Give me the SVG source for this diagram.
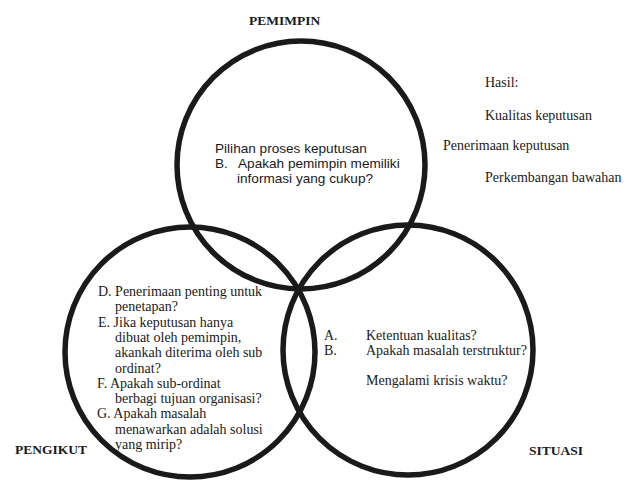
<svg xmlns="http://www.w3.org/2000/svg" width="629" height="480" viewBox="0 0 629 480">
<style>
.c{fill:none;stroke:#1a1a1a;stroke-width:5.5}
.s{font-family:"Liberation Sans",Arial,sans-serif;font-size:13.6px;fill:#1a1a1a}
.t{font-family:"Liberation Serif","Times New Roman",serif;font-size:14px;fill:#1a1a1a}
.b{font-family:"Liberation Serif","Times New Roman",serif;font-size:13.5px;font-weight:bold;fill:#1a1a1a}
</style>
<rect width="629" height="480" fill="#fff"/>
<g id="pemimpin">
<circle class="c" cx="301" cy="165" r="124"/>
<text class="b" x="249" y="25">PEMIMPIN</text>
<text class="s" x="215" y="153">Pilihan proses keputusan</text>
<text class="s" x="215" y="168">B.</text>
<text class="s" x="238" y="168">Apakah pemimpin memiliki</text>
<text class="s" x="237" y="183">informasi yang cukup?</text>
</g>
<g id="pengikut">
<circle class="c" cx="190" cy="352" r="125"/>
<text class="b" x="15" y="454">PENGIKUT</text>
<text class="t" x="98" y="296">D. Penerimaan penting untuk</text>
<text class="t" x="115" y="311.3">penetapan?</text>
<text class="t" x="98" y="326.6">E. Jika keputusan hanya</text>
<text class="t" x="115" y="341.9">dibuat oleh pemimpin,</text>
<text class="t" x="115" y="357.2">akankah diterima oleh sub</text>
<text class="t" x="115" y="372.5">ordinat?</text>
<text class="t" x="97" y="387.8">F. Apakah sub-ordinat</text>
<text class="t" x="115" y="403.1">berbagi tujuan organisasi?</text>
<text class="t" x="97" y="418.4">G. Apakah masalah</text>
<text class="t" x="115" y="433.7">menawarkan adalah solusi</text>
<text class="t" x="115" y="449">yang mirip?</text>
</g>
<g id="situasi">
<circle class="c" cx="408" cy="350" r="125"/>
<text class="b" x="529" y="455">SITUASI</text>
<text class="t" x="324" y="340">A.</text>
<text class="t" x="366" y="340">Ketentuan kualitas?</text>
<text class="t" x="324" y="355">B.</text>
<text class="t" x="366" y="355">Apakah masalah terstruktur?</text>
<text class="t" x="366" y="385">Mengalami krisis waktu?</text>
</g>
<g id="hasil">
<text class="t" x="485" y="87">Hasil:</text>
<text class="t" x="485" y="120">Kualitas keputusan</text>
<text class="t" x="443" y="150">Penerimaan keputusan</text>
<text class="t" x="485" y="182">Perkembangan bawahan</text>
</g>
<g id="connectors"></g>
</svg>
